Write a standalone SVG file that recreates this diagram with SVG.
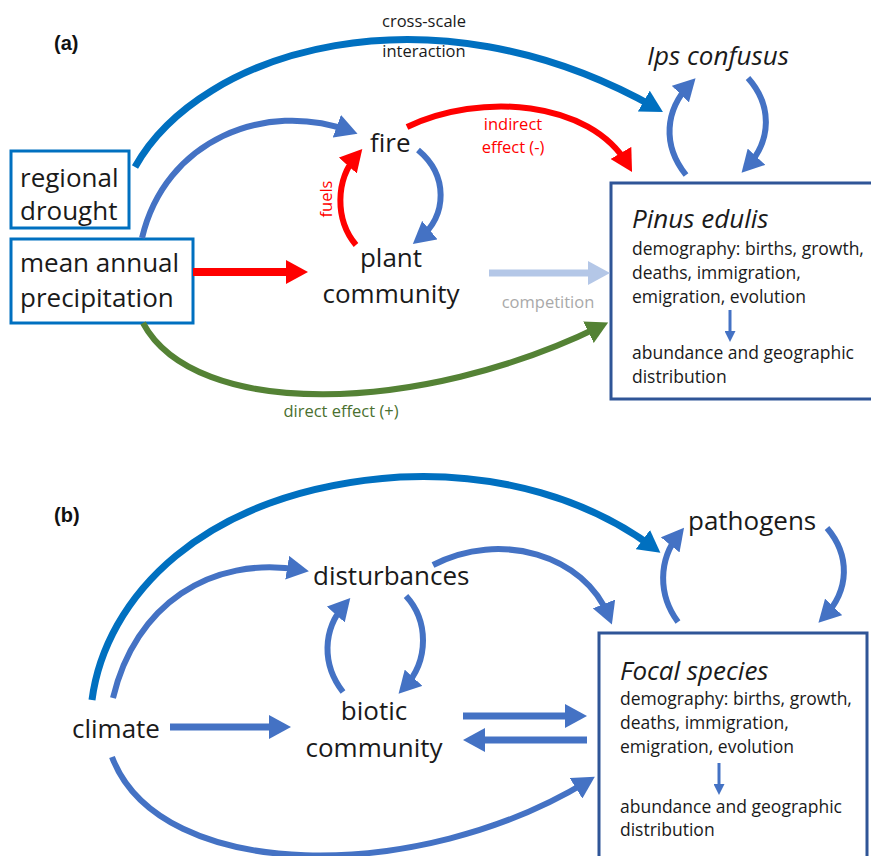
<svg xmlns="http://www.w3.org/2000/svg" width="871" height="856" viewBox="0 0 871 856">
<style>
.t{font-family:"Open Sans","Noto Sans","DejaVu Sans",sans-serif;fill:#1a1a1a}
.big{font-size:26px}
.it{font-style:italic}
.sm{font-size:17.5px}
.lab{font-size:16.5px}
.pl{font-family:"Liberation Sans",Arial,sans-serif;font-weight:bold;font-size:20px;fill:#111}
.c{fill:none;stroke-linecap:butt}
.db{stroke:#0070C0;stroke-width:7}
.mb{stroke:#4472C4;stroke-width:6}
.rd{stroke:#FF0000;stroke-width:6}
.gr{stroke:#548235;stroke-width:6}
.lb{stroke:#B4C7E7;stroke-width:7}
.box1{fill:#fff;stroke:#0070C0;stroke-width:3}
.box2{fill:#fff;stroke:#2F5597;stroke-width:3}
</style>
<defs>
<marker id="hDB" markerUnits="userSpaceOnUse" markerWidth="22" markerHeight="24" viewBox="0 0 22 24" refX="14" refY="12" orient="auto"><path d="M0,0 L22,12 L0,24 z" fill="#0070C0"/></marker>
<marker id="hMB" markerUnits="userSpaceOnUse" markerWidth="22" markerHeight="24" viewBox="0 0 22 24" refX="14" refY="12" orient="auto"><path d="M0,0 L22,12 L0,24 z" fill="#4472C4"/></marker>
<marker id="hRD" markerUnits="userSpaceOnUse" markerWidth="22" markerHeight="24" viewBox="0 0 22 24" refX="14" refY="12" orient="auto"><path d="M0,0 L22,12 L0,24 z" fill="#FF0000"/></marker>
<marker id="hGR" markerUnits="userSpaceOnUse" markerWidth="22" markerHeight="24" viewBox="0 0 22 24" refX="14" refY="12" orient="auto"><path d="M0,0 L22,12 L0,24 z" fill="#548235"/></marker>
<marker id="hLB" markerUnits="userSpaceOnUse" markerWidth="22" markerHeight="24" viewBox="0 0 22 24" refX="14" refY="12" orient="auto"><path d="M0,0 L22,12 L0,24 z" fill="#B4C7E7"/></marker>
<marker id="hSM" markerUnits="userSpaceOnUse" markerWidth="11" markerHeight="11" viewBox="0 0 11 11" refX="5" refY="5.5" orient="auto"><path d="M0,0 L11,5.5 L0,11 z" fill="#4472C4"/></marker>
</defs>
<rect width="871" height="856" fill="#fff"/>

<!-- Panel labels -->
<text class="pl" x="54" y="50">(a)</text>
<text class="pl" x="54" y="522">(b)</text>

<!-- Nodes panel (a) -->
<g id="regional-drought">
<rect class="box1" x="11" y="151" width="118" height="77"/>
<text class="t big" x="20" y="187">regional</text>
<text class="t big" x="20" y="220">drought</text>
</g>
<g id="mean-annual-precipitation">
<rect class="box1" x="11" y="239" width="182" height="84"/>
<text class="t big" x="20" y="272">mean annual</text>
<text class="t big" x="20" y="307">precipitation</text>
</g>
<g id="fire">
<text class="t big" x="370" y="152">fire</text>
</g>
<g id="plant-community">
<text class="t big" x="391" y="267" text-anchor="middle">plant</text>
<text class="t big" x="391" y="303" text-anchor="middle">community</text>
</g>
<g id="ips-confusus">
<text class="t big it" x="647" y="65">Ips confusus</text>
</g>
<g id="pinus-edulis">
<rect class="box2" x="611" y="183" width="275" height="216"/>
<text class="t big it" x="632" y="228">Pinus edulis</text>
<text class="t sm" x="632" y="255">demography: births, growth,</text>
<text class="t sm" x="632" y="279">deaths, immigration,</text>
<text class="t sm" x="632" y="303">emigration, evolution</text>
<path class="c" d="M730,310 L730,336" stroke="#4472C4" stroke-width="3" marker-end="url(#hSM)"/>
<text class="t sm" x="632" y="359">abundance and geographic</text>
<text class="t sm" x="632" y="383">distribution</text>
</g>

<!-- Nodes panel (b) -->
<g id="climate">
<text class="t big" x="72" y="738">climate</text>
</g>
<g id="disturbances">
<text class="t big" x="313" y="585">disturbances</text>
</g>
<g id="biotic-community">
<text class="t big" x="374" y="720" text-anchor="middle">biotic</text>
<text class="t big" x="374" y="757" text-anchor="middle">community</text>
</g>
<g id="pathogens">
<text class="t big" x="688" y="530">pathogens</text>
</g>
<g id="focal-species">
<rect class="box2" x="599" y="633" width="268" height="240"/>
<text class="t big it" x="620" y="680">Focal species</text>
<text class="t sm" x="620" y="705">demography: births, growth,</text>
<text class="t sm" x="620" y="729">deaths, immigration,</text>
<text class="t sm" x="620" y="753">emigration, evolution</text>
<path class="c" d="M719,763 L719,789" stroke="#4472C4" stroke-width="3" marker-end="url(#hSM)"/>
<text class="t sm" x="620" y="813">abundance and geographic</text>
<text class="t sm" x="620" y="836">distribution</text>
</g>

<!-- Connectors -->
<g id="connectors">
<!-- panel a -->
<path class="c db" d="M135,167 C200,50 430,-20 656,108" marker-end="url(#hDB)"/>
<path class="c mb" d="M142,238 C165,140 265,100 350,131" marker-end="url(#hMB)"/>
<path class="c mb" d="M418,150 C448,175 448,215 419,239" marker-end="url(#hMB)"/>
<path class="c rd" d="M356,245 C335,220 335,180 357,155" marker-end="url(#hRD)"/>
<path class="c rd" d="M407,127 C480,92 590,100 628,165" marker-end="url(#hRD)"/>
<path class="c rd" d="M193,272 L300,272" style="stroke-width:8" marker-end="url(#hRD)"/>
<path class="c lb" d="M489,273 L602,273" marker-end="url(#hLB)"/>
<path class="c gr" d="M143,323 C195,420 420,415 601,326" marker-end="url(#hGR)"/>
<path class="c mb" d="M686,175 C662,145 665,110 690,84" marker-end="url(#hMB)"/>
<path class="c mb" d="M748,78 C772,105 772,140 747,167" marker-end="url(#hMB)"/>
<!-- panel b -->
<path class="c db" d="M92,700 C105,600 200,490 400,477 C500,472 590,500 654,548" marker-end="url(#hDB)"/>
<path class="c mb" d="M113,698 C135,605 210,555 301,570" marker-end="url(#hMB)"/>
<path class="c mb" d="M433,565 C500,530 585,555 609,617" marker-end="url(#hMB)"/>
<path class="c mb" d="M343,692 C322,665 322,630 345,604" marker-end="url(#hMB)"/>
<path class="c mb" d="M406,596 C428,620 430,660 404,688" marker-end="url(#hMB)"/>
<path class="c mb" d="M170,727 L283,727" style="stroke-width:7" marker-end="url(#hMB)"/>
<path class="c mb" d="M463,716 L579,716" style="stroke-width:7" marker-end="url(#hMB)"/>
<path class="c mb" d="M587,740 L471,740" style="stroke-width:7" marker-end="url(#hMB)"/>
<path class="c mb" d="M112,757 C160,884 420,884 588,781" marker-end="url(#hMB)"/>
<path class="c mb" d="M678,622 C658,595 658,560 679,534" marker-end="url(#hMB)"/>
<path class="c mb" d="M827,528 C850,555 850,590 824,617" marker-end="url(#hMB)"/>
</g>

<!-- Connector labels -->
<g id="connector-labels">
<text class="t lab" x="424" y="27" text-anchor="middle">cross-scale</text>
<text class="t lab" x="424" y="57" text-anchor="middle">interaction</text>
<text class="t lab" x="513" y="130" text-anchor="middle" style="fill:#FF0000">indirect</text>
<text class="t lab" x="513" y="153" text-anchor="middle" style="fill:#FF0000">effect (-)</text>
<text class="t lab" transform="translate(332,199) rotate(-90)" text-anchor="middle" style="fill:#FF0000">fuels</text>
<text class="t lab" x="548" y="308" text-anchor="middle" style="fill:#A9A9A9">competition</text>
<text class="t lab" x="341" y="417" text-anchor="middle" style="fill:#4A7030">direct effect (+)</text>
</g>
</svg>
